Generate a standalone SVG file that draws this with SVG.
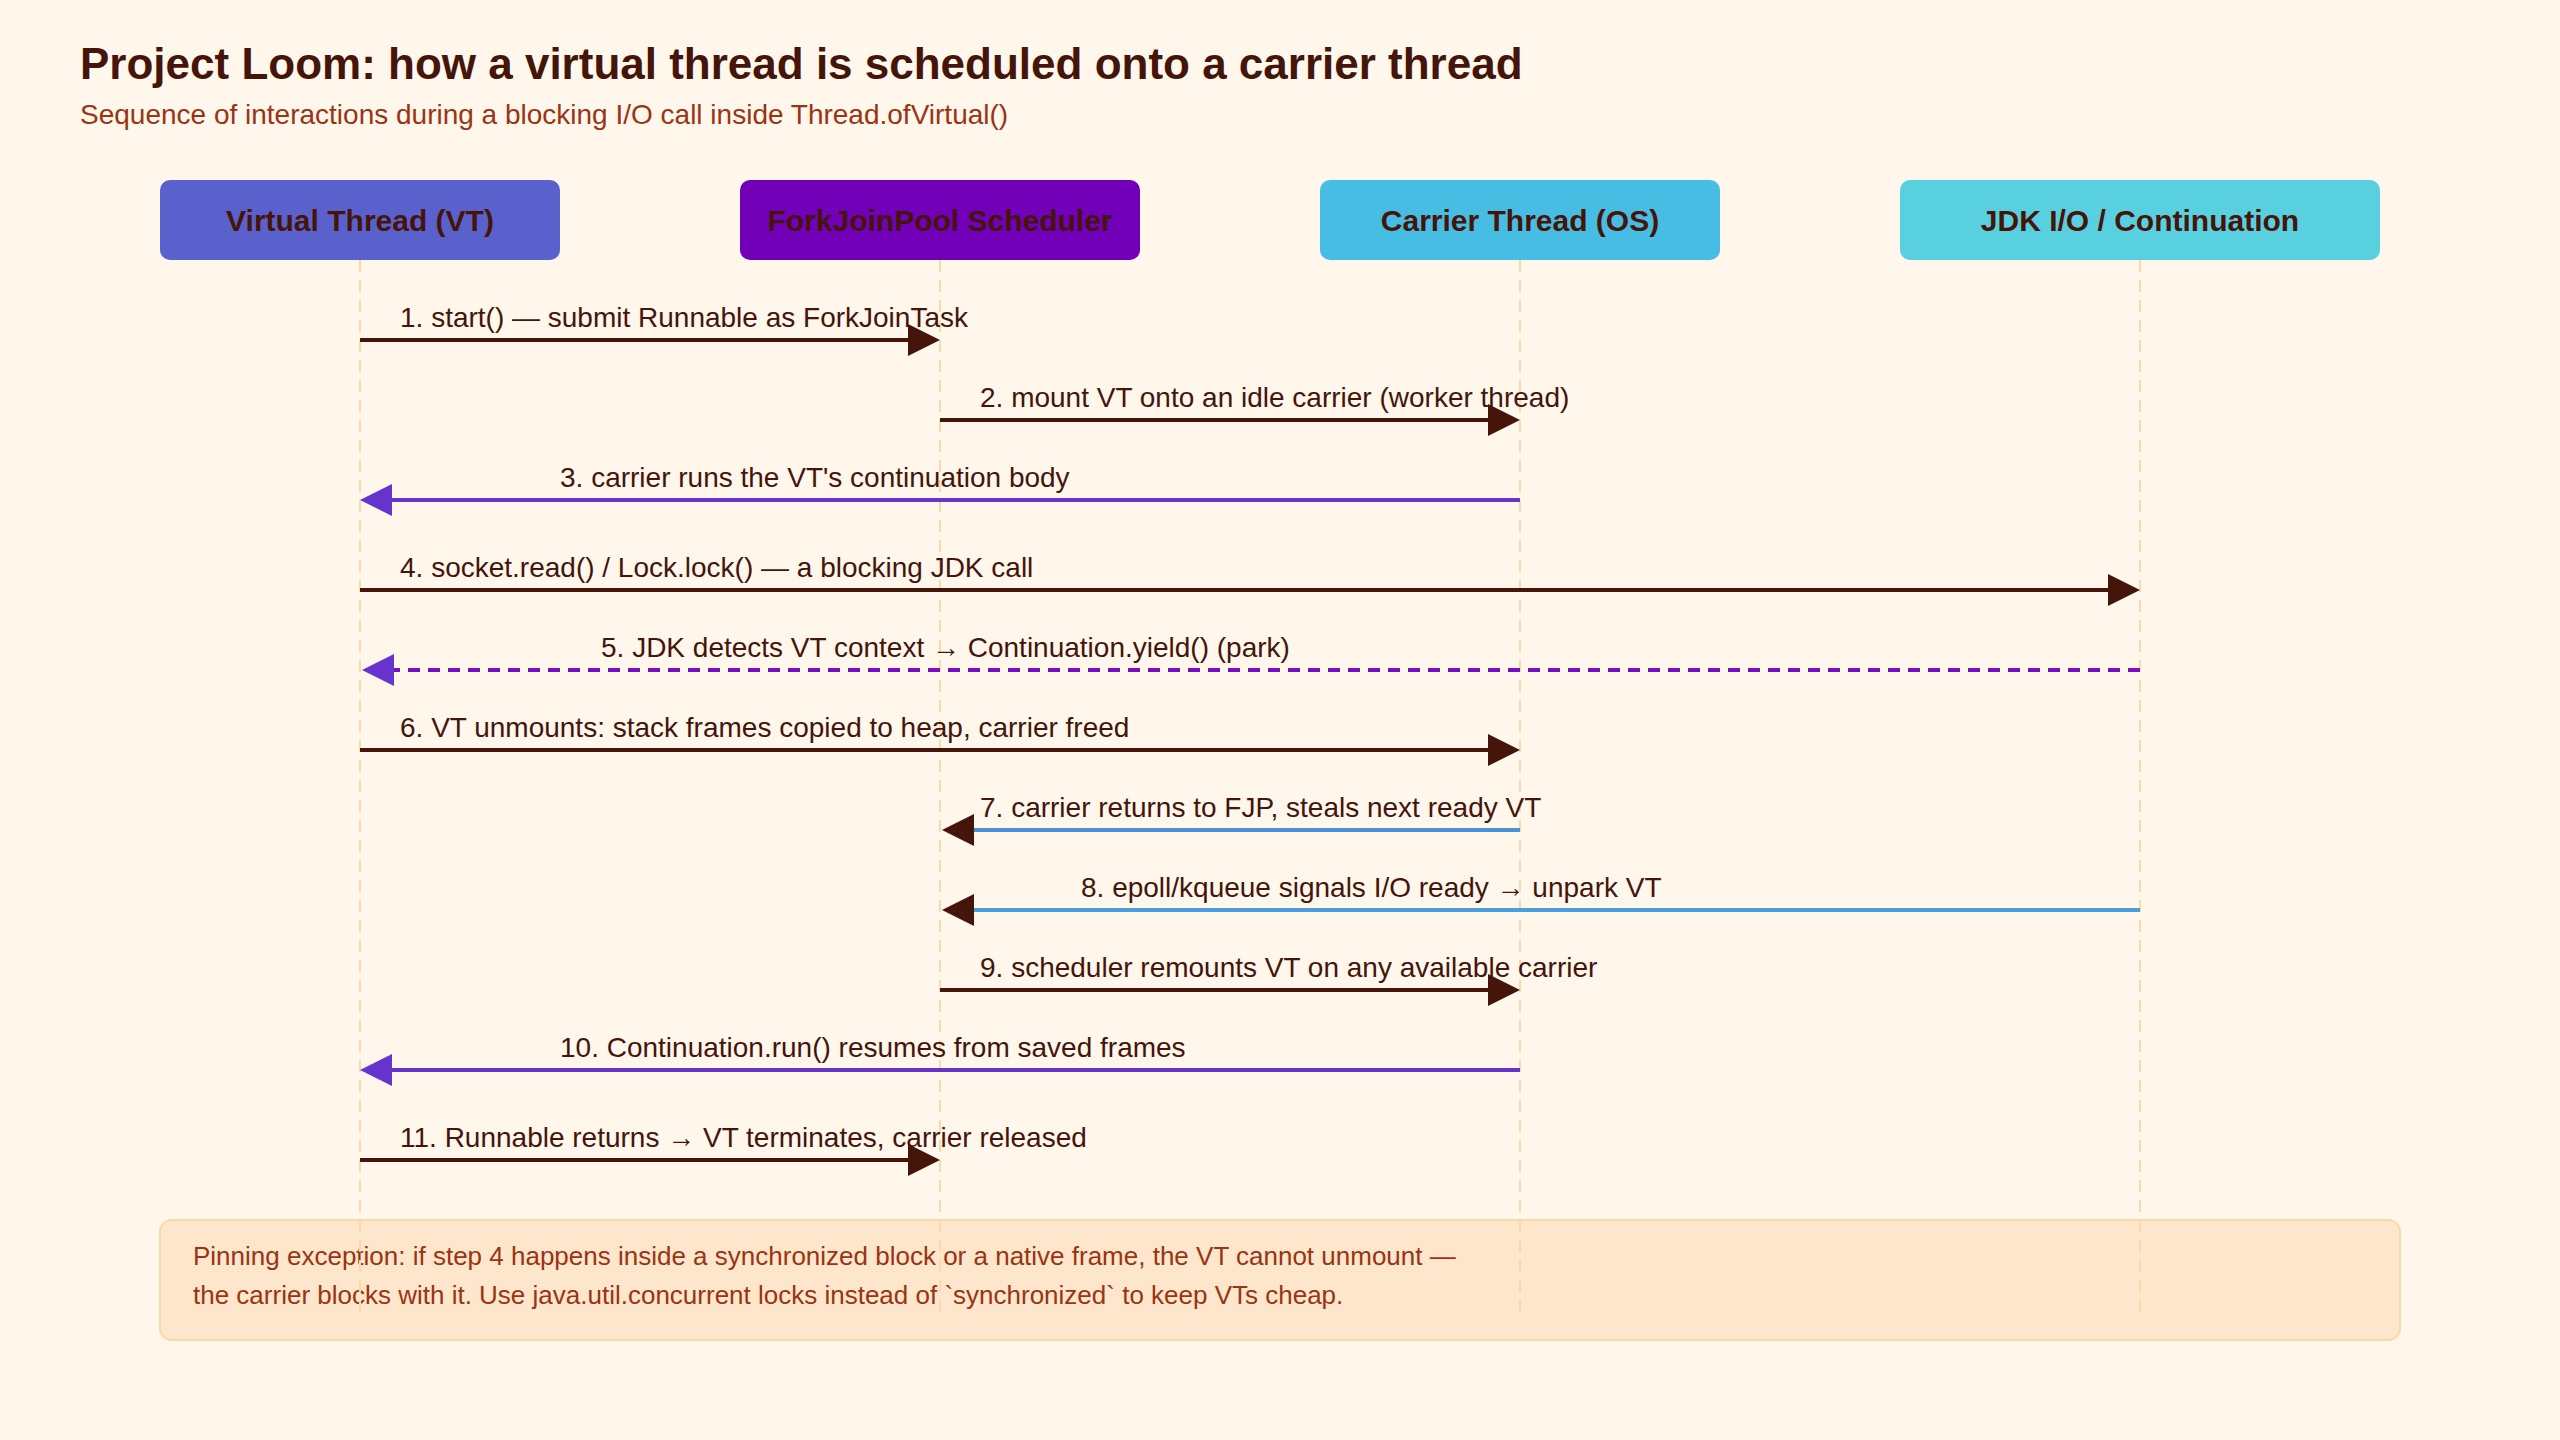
<svg xmlns="http://www.w3.org/2000/svg" width="2560" height="1440" viewBox="0 0 2560 1440">
<style>
text{font-family:"Liberation Sans",Arial,sans-serif}
.title{font-size:44px;font-weight:bold;fill:#45150a}
.sub{font-size:28px;fill:#9a3412}
.hd{font-size:30px;font-weight:bold;fill:#45150a;text-anchor:middle}
.lbl{font-size:28px;fill:#45150a}
.note{font-size:26px;fill:#9a3412}
.life{stroke:#fcd9a8;stroke-width:2;stroke-dasharray:12 8;fill:none}
.m{stroke-width:4;fill:none}
</style>
<rect width="2560" height="1440" fill="#fff6ec"/>
<text class="title" x="80" y="79">Project Loom: how a virtual thread is scheduled onto a carrier thread</text>
<text class="sub" x="80" y="124">Sequence of interactions during a blocking I/O call inside Thread.ofVirtual()</text>
<g id="note">
<rect x="160" y="1220" width="2240" height="120" rx="12" fill="#fde6cc" stroke="#f9d9a8" stroke-width="2"/>
<text class="note" x="193" y="1265">Pinning exception: if step 4 happens inside a synchronized block or a native frame, the VT cannot unmount —</text>
<text class="note" x="193" y="1304">the carrier blocks with it. Use java.util.concurrent locks instead of `synchronized` to keep VTs cheap.</text>
</g>
<g id="lifelines">
<line class="life" x1="360" y1="260" x2="360" y2="1314"/>
<line class="life" x1="940" y1="260" x2="940" y2="1314"/>
<line class="life" x1="1520" y1="260" x2="1520" y2="1314"/>
<line class="life" x1="2140" y1="260" x2="2140" y2="1314"/>
</g>
<g id="vt"><rect x="160" y="180" width="400" height="80" rx="10" fill="#5b61cc"/><text class="hd" x="360" y="231">Virtual Thread (VT)</text></g>
<g id="fjp"><rect x="740" y="180" width="400" height="80" rx="10" fill="#7200b8"/><text class="hd" x="940" y="231">ForkJoinPool Scheduler</text></g>
<g id="carrier"><rect x="1320" y="180" width="400" height="80" rx="10" fill="#48bde3"/><text class="hd" x="1520" y="231">Carrier Thread (OS)</text></g>
<g id="jdk"><rect x="1900" y="180" width="480" height="80" rx="10" fill="#58d0e0"/><text class="hd" x="2140" y="231">JDK I/O / Continuation</text></g>
<g id="connectors">
<line class="m" stroke="#45150a" x1="360" y1="340" x2="908" y2="340"/><path d="M940,340l-32,-16v32z" fill="#45150a"/>
<text class="lbl" x="400" y="327">1. start() — submit Runnable as ForkJoinTask</text>
<line class="m" stroke="#45150a" x1="940" y1="420" x2="1488" y2="420"/><path d="M1520,420l-32,-16v32z" fill="#45150a"/>
<text class="lbl" x="980" y="407">2. mount VT onto an idle carrier (worker thread)</text>
<line class="m" stroke="#6633cc" x1="1520" y1="500" x2="392" y2="500"/><path d="M360,500l32,-16v32z" fill="#6633cc"/>
<text class="lbl" x="560" y="487">3. carrier runs the VT's continuation body</text>
<line class="m" stroke="#45150a" x1="360" y1="590" x2="2108" y2="590"/><path d="M2140,590l-32,-16v32z" fill="#45150a"/>
<text class="lbl" x="400" y="577">4. socket.read() / Lock.lock() — a blocking JDK call</text>
<line class="m" stroke="#7a0fc0" stroke-dasharray="12 8" x1="2140" y1="670" x2="394" y2="670"/><path d="M362,670l32,-16v32z" fill="#6633cc"/>
<text class="lbl" x="601" y="657">5. JDK detects VT context → Continuation.yield() (park)</text>
<line class="m" stroke="#45150a" x1="360" y1="750" x2="1488" y2="750"/><path d="M1520,750l-32,-16v32z" fill="#45150a"/>
<text class="lbl" x="400" y="737">6. VT unmounts: stack frames copied to heap, carrier freed</text>
<line class="m" stroke="#4a90d9" x1="1520" y1="830" x2="972" y2="830"/><path d="M942,830l32,-16v32z" fill="#45150a"/>
<text class="lbl" x="980" y="817">7. carrier returns to FJP, steals next ready VT</text>
<line class="m" stroke="#4a9ee0" x1="2140" y1="910" x2="972" y2="910"/><path d="M942,910l32,-16v32z" fill="#45150a"/>
<text class="lbl" x="1081" y="897">8. epoll/kqueue signals I/O ready → unpark VT</text>
<line class="m" stroke="#45150a" x1="940" y1="990" x2="1488" y2="990"/><path d="M1520,990l-32,-16v32z" fill="#45150a"/>
<text class="lbl" x="980" y="977">9. scheduler remounts VT on any available carrier</text>
<line class="m" stroke="#6633cc" x1="1520" y1="1070" x2="392" y2="1070"/><path d="M360,1070l32,-16v32z" fill="#6633cc"/>
<text class="lbl" x="560" y="1057">10. Continuation.run() resumes from saved frames</text>
<line class="m" stroke="#45150a" x1="360" y1="1160" x2="908" y2="1160"/><path d="M940,1160l-32,-16v32z" fill="#45150a"/>
<text class="lbl" x="400" y="1147">11. Runnable returns → VT terminates, carrier released</text>
</g>
</svg>
